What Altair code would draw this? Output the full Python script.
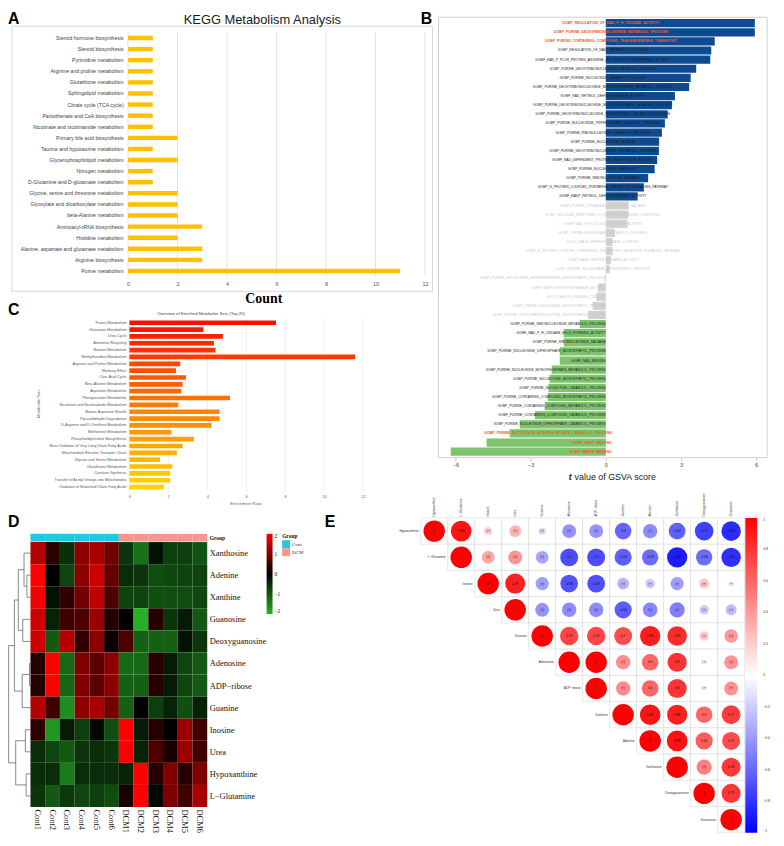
import altair as alt
import pandas as pd

W, H = 776, 830
SANS = "Liberation Sans"
SERIF = "Liberation Serif"

# ---------------- Panel A : KEGG ----------------
kegg_pathways = [
    "Steroid hormone biosynthesis", "Steroid biosynthesis", "Pyrimidine metabolism",
    "Arginine and proline metabolism", "Glutathione metabolism", "Sphingolipid metabolism",
    "Citrate cycle (TCA cycle)", "Pantothenate and CoA biosynthesis",
    "Nicotinate and nicotinamide metabolism", "Primary bile acid biosynthesis",
    "Taurine and hypotaurine metabolism", "Glycerophospholipid metabolism", "Nitrogen metabolism",
    "D-Glutamine and D-glutamate metabolism", "Glycine, serine and threonine metabolism",
    "Glyoxylate and dicarboxylate metabolism", "beta-Alanine metabolism",
    "Aminoacyl-tRNA biosynthesis", "Histidine metabolism",
    "Alanine, aspartate and glutamate metabolism", "Arginine biosynthesis", "Purine metabolism",
]
kegg_counts = [1, 1, 1, 1, 1, 1, 1, 1, 1, 2, 1, 2, 1, 1, 2, 2, 2, 3, 2, 3, 3, 11]
kegg_ticks = [0, 2, 4, 6, 8, 10, 12]

# ---------------- Panel B : GSVA ----------------
gsva_terms = [
    "GOBP_REGULATION_OF_NAD_P_H_OXIDASE_ACTIVITY",
    "GOBP_PURINE_DEOXYRIBONUCLEOSIDE_METABOLIC_PROCESS",
    "GOBP_PURINE_CONTAINING_COMPOUND_TRANSMEMBRANE_TRANSPORT",
    "GOBP_REGULATION_OF_NADP_METABOLIC_PROCESS",
    "GOMF_NAD_P_PLUS_PROTEIN_ARGININE_ADP_RIBOSYLTRANSFERASE_ACTIVITY",
    "GOBP_PURINE_DEOXYRIBONUCLEOTIDE_CATABOLIC_PROCESS",
    "GOBP_PURINE_NUCLEOSIDE_CATABOLIC_PROCESS",
    "GOBP_PURINE_DEOXYRIBONUCLEOSIDE_MONOPHOSPHATE_METABOLIC_PROCESS",
    "GOMF_NAD_RETINOL_DEHYDROGENASE_ACTIVITY",
    "GOBP_PURINE_DEOXYRIBONUCLEOSIDE_MONOPHOSPHATE_CATABOLIC_PROCESS",
    "GOBP_PURINE_DEOXYRIBONUCLEOSIDE_TRIPHOSPHATE_METABOLIC_PROCESS",
    "GOBP_PURINE_NUCLEOSIDE_TRIPHOSPHATE_CATABOLIC_PROCESS",
    "GOBP_PURINE_RIBONUCLEOSIDE_CATABOLIC_PROCESS",
    "GOBP_PURINE_NUCLEOTIDE_SALVAGE",
    "GOBP_PURINE_DEOXYRIBONUCLEOTIDE_METABOLIC_PROCESS",
    "GOMF_NAD_DEPENDENT_PROTEIN_DEACETYLASE_ACTIVITY",
    "GOBP_PURINE_NUCLEOTIDE_TRANSPORT",
    "GOBP_PURINE_RIBONUCLEOTIDE_SALVAGE",
    "GOBP_G_PROTEIN_COUPLED_PURINERGIC_RECEPTOR_SIGNALING_PATHWAY",
    "GOMF_NADP_RETINOL_DEHYDROGENASE_ACTIVITY",
    "GOBP_PURINE_CONTAINING_COMPOUND_SALVAGE",
    "GOBP_CELLULAR_RESPONSE_TO_PURINE_CONTAINING_COMPOUND",
    "GOMF_NAD_P_PLUS_NUCLEOSIDASE_ACTIVITY",
    "GOBP_PURINE_NUCLEOBASE_METABOLIC_PROCESS",
    "GOCC_NADH_DEHYDROGENASE_COMPLEX",
    "GOBP_G_PROTEIN_COUPLED_PURINERGIC_NUCLEOTIDE_RECEPTOR_SIGNALING_PATHWAY",
    "GOMF_NADH_DEHYDROGENASE_ACTIVITY",
    "GOBP_PURINE_NUCLEOBASE_BIOSYNTHETIC_PROCESS",
    "GOBP_PURINE_NUCLEOSIDE_MONOPHOSPHATE_BIOSYNTHETIC_PROCESS",
    "GOMF_NADH_PYROPHOSPHATASE_ACTIVITY",
    "GOCC_NADPH_OXIDASE_COMPLEX",
    "GOBP_PURINE_NUCLEOSIDE_BIOSYNTHETIC_PROCESS",
    "GOBP_PURINE_DEOXYRIBONUCLEOTIDE_BIOSYNTHETIC_PROCESS",
    "GOBP_PURINE_RIBONUCLEOSIDE_METABOLIC_PROCESS",
    "GOMF_NAD_P_H_OXIDASE_H2O2_FORMING_ACTIVITY",
    "GOBP_PURINE_RIBONUCLEOSIDE_SALVAGE",
    "GOBP_PURINE_NUCLEOSIDE_DIPHOSPHATE_BIOSYNTHETIC_PROCESS",
    "GOMF_NAD_BINDING",
    "GOBP_PURINE_NUCLEOSIDE_MONOPHOSPHATE_METABOLIC_PROCESS",
    "GOBP_PURINE_NUCLEOTIDE_BIOSYNTHETIC_PROCESS",
    "GOBP_PURINE_NUCLEOTIDE_CATABOLIC_PROCESS",
    "GOBP_PURINE_CONTAINING_COMPOUND_BIOSYNTHETIC_PROCESS",
    "GOBP_PURINE_CONTAINING_COMPOUND_METABOLIC_PROCESS",
    "GOBP_PURINE_CONTAINING_COMPOUND_CATABOLIC_PROCESS",
    "GOBP_PURINE_NUCLEOSIDE_DIPHOSPHATE_CATABOLIC_PROCESS",
    "GOBP_PURINE_NUCLEOSIDE_MONOPHOSPHATE_CATABOLIC_PROCESS",
    "GOMF_NADP_BINDING",
    "GOMF_NADPH_BINDING",
]
gsva_t = [5.95, 5.95, 4.35, 4.21, 4.17, 3.61, 3.39, 3.33, 2.76, 2.64,
          2.47, 2.36, 2.24, 2.13, 2.12, 2.05, 1.95, 1.69, 1.52, 1.27,
          0.91, 0.90, 0.87, 0.36, 0.27, 0.27, 0.20, 0.16, -0.04, -0.31,
          -0.37, -0.53, -0.72,
          -1.04, -1.68, -1.68, -1.84, -1.84, -2.16, -2.25, -2.29, -2.32, -2.44,
          -2.83, -3.43, -3.84, -4.76, -6.19]
gsva_significant = [1] * 20 + [0] * 13 + [1] * 15
gsva_highlight = [
    "GOBP_REGULATION_OF_NAD_P_H_OXIDASE_ACTIVITY",
    "GOBP_PURINE_DEOXYRIBONUCLEOSIDE_METABOLIC_PROCESS",
    "GOBP_PURINE_CONTAINING_COMPOUND_TRANSMEMBRANE_TRANSPORT",
    "GOBP_PURINE_NUCLEOSIDE_MONOPHOSPHATE_CATABOLIC_PROCESS",
    "GOMF_NADP_BINDING",
    "GOMF_NADPH_BINDING",
]
gsva_ticks = [-6, -3, 0, 3, 6]

# ---------------- Panel C : MSEA ----------------
msea_sets = [
    "Purine Metabolism", "Glutamate Metabolism", "Urea Cycle", "Ammonia Recycling",
    "Betaine Metabolism", "Methylhistidine Metabolism", "Arginine and Proline Metabolism",
    "Warburg Effect", "Citric Acid Cycle", "Beta-Alanine Metabolism", "Aspartate Metabolism",
    "Phenylacetate Metabolism", "Nicotinate and Nicotinamide Metabolism",
    "Malate-Aspartate Shuttle", "Pyruvaldehyde Degradation",
    "D-Arginine and D-Ornithine Metabolism", "Methionine Metabolism",
    "Phosphatidylcholine Biosynthesis", "Beta Oxidation of Very Long Chain Fatty Acids",
    "Mitochondrial Electron Transport Chain", "Glycine and Serine Metabolism",
    "Glutathione Metabolism", "Carnitine Synthesis",
    "Transfer of Acetyl Groups into Mitochondria", "Oxidation of Branched Chain Fatty Acids",
]
msea_ratio = [7.53, 3.80, 4.80, 4.34, 4.42, 11.60, 2.61, 2.39, 2.90, 2.73, 2.66, 5.17, 2.51,
              4.63, 4.63, 4.22, 2.15, 3.31, 2.73, 2.44, 1.58, 2.20, 2.10, 2.10, 1.78]
msea_ticks = [0, 2, 4, 6, 8, 10, 12]

# ---------------- Panel D : heatmap ----------------
heat_samples = ["Cont1", "Cont2", "Cont3", "Cont4", "Cont5", "Cont6",
                "DCM1", "DCM2", "DCM3", "DCM4", "DCM5", "DCM6"]
heat_metabolites = ["Xanthosine", "Adenine", "Xanthine", "Guanosine", "Deoxyguanosine",
                    "Adenosine", "ADP−ribose", "Guanine", "Inosine", "Urea",
                    "Hypoxanthine", "L−Glutamine"]
z_xanthosine = [1.4, 0.35, -0.55, 1.1, 1.3, 0.9, -0.6, -1.3, -0.2, -0.7, -0.7, -0.95]
z_adenine = [2.0, 0.0, -0.8, 1.1, 1.6, 0.8, -0.5, -0.6, -0.85, -0.8, -0.75, -0.75]
z_xanthine = [1.9, -0.2, 0.4, 0.9, 1.5, 0.6, -0.75, -0.75, -0.9, -0.9, -0.85, -0.8]
z_guanosine = [1.6, -0.4, 0.5, 0.6, 1.2, 0.3, 0.0, -2.0, 0.3, -0.6, -0.3, -1.0]
z_deoxyguanosine = [1.6, -1.0, 1.4, 0.4, 1.1, 0.1, 0.6, -1.1, -1.1, -1.1, -0.2, -0.6]
z_adenosine = [0.3, 2.0, -1.2, 1.0, 0.7, 1.1, -1.2, -1.2, 0.3, -0.3, -0.8, -1.0]
z_adp_ribose = [0.3, 2.0, -1.15, 1.0, 0.7, 1.1, -1.1, -1.1, 0.3, -0.3, -0.8, -1.0]
z_guanine = [1.4, 0.5, -1.6, 1.1, 1.3, 0.9, -1.1, 0.0, -0.7, -0.4, -0.9, -0.4]
z_inosine = [0.35, -1.7, -0.3, -0.7, -0.1, -0.9, 2.2, -0.3, 0.3, 0.0, 1.2, 0.5]
z_urea = [-0.5, -0.8, -1.0, -0.6, -0.5, -0.6, 2.2, -0.4, 0.6, 0.2, 1.2, 0.5]
z_hypoxanthine = [-0.5, -0.5, -1.4, -0.5, -0.5, -0.5, -0.4, 2.4, 0.3, 1.0, 0.3, 1.0]
z_l_glutamine = [-0.6, -1.0, -0.65, -0.8, -0.7, -0.85, 0.2, 2.4, -0.1, 1.0, 0.5, 1.3]
heat_rows = [z_xanthosine, z_adenine, z_xanthine, z_guanosine, z_deoxyguanosine,
             z_adenosine, z_adp_ribose, z_guanine, z_inosine, z_urea,
             z_hypoxanthine, z_l_glutamine]
# hclust-style merges: negative = leaf (1-based row), positive = earlier merge
dendro_merges = [(-6, -7, 1.2), (-2, -3, 4.5), (-11, -12, 5.5), (-9, -10, 6.5),
                 (-1, 2, 8.2), (-4, -5, 9.8), (1, -8, 10.5), (5, 6, 15.5),
                 (4, 3, 18.8), (8, 7, 20.5), (10, 9, 27.8)]

# ---------------- Panel E : correlation ----------------
corr_names = ["Hypoxanthine", "L−Glutamine", "Inosine", "Urea", "Guanine", "Adenosine",
              "ADP−ribose", "Xanthine", "Adenine", "Xanthosine", "Deoxyguanosine", "Guanosine"]
r_hypoxanthine = [1, 0.93, 0.16, 0.30, -0.12, -0.42, -0.42, -0.6, -0.45, -0.62, -0.75, -0.83]
r_l_glutamine = [1, 0.35, 0.42, -0.35, -0.7, -0.7, -0.63, -0.58, -0.89, -0.58, -0.82]
r_inosine = [1, 0.87, -0.38, -0.68, -0.69, -0.30, -0.20, -0.38, 0.22, 0.02]
r_urea = [1, -0.42, -0.45, -0.45, -0.64, -0.47, -0.50, -0.20, -0.26]
r_guanine = [1, 0.73, 0.73, 0.7, 0.89, 0.83, 0.20, 0.40]
r_adenosine = [1, 1, 0.45, 0.6, 0.8, 0.02, 0.42]
r_adp_ribose = [1, 0.45, 0.6, 0.8, 0.02, 0.42]
r_xanthine = [1, 0.92, 0.88, 0.6, 0.77]
r_adenine = [1, 0.93, 0.64, 0.71]
r_xanthosine = [1, 0.50, 0.78]
r_deoxyguanosine = [1, 0.79]
r_guanosine = [1]
corr_rows = [r_hypoxanthine, r_l_glutamine, r_inosine, r_urea, r_guanine, r_adenosine,
             r_adp_ribose, r_xanthine, r_adenine, r_xanthosine, r_deoxyguanosine, r_guanosine]
sig_rows = [
    [1, 1, 0, 0, 0, 0, 0, 1, 0, 1, 1, 1],
    [1, 0, 0, 0, 1, 1, 1, 1, 1, 1, 1],
    [1, 1, 0, 1, 1, 0, 0, 0, 0, 0],
    [1, 0, 0, 0, 1, 0, 0, 0, 0],
    [1, 1, 1, 1, 1, 1, 0, 0],
    [1, 1, 0, 1, 1, 0, 0],
    [1, 0, 1, 1, 0, 0],
    [1, 1, 1, 1, 1],
    [1, 1, 1, 1],
    [1, 0, 1],
    [1, 1],
    [1],
]
corr_legend_values = [-1, -0.8, -0.6, -0.4, -0.2, 0, 0.2, 0.4, 0.6, 0.8, 1]


def note(text, x, y, size, weight="normal", align="left", color="#000000",
         font=SANS, style="normal"):
    return alt.Chart(pd.DataFrame({"t": [text]})).mark_text(
        align=align, baseline="middle", fontSize=size, fontWeight=weight,
        fontStyle=style, font=font, color=color,
    ).encode(x=alt.value(x), y=alt.value(y), text="t:N")


def bare_axis(**kw):
    base = dict(domain=False, ticks=False, tickSize=0, grid=False, title=None)
    base.update(kw)
    return alt.Axis(**base)


# ================= A =================
dfA = pd.DataFrame({"pathway": kegg_pathways, "count": kegg_counts})
scAx = alt.Scale(domain=[0, 12], range=[121.3, 421.3], nice=False, zero=False)
scAy = alt.Scale(domain=kegg_pathways, range=[20.4, 267], paddingInner=0.6, paddingOuter=0.3)
axAx = alt.Axis(orient="bottom", offset=-(H - 269), values=kegg_ticks, format="d",
                domain=False, ticks=False, tickSize=0, grid=False, labelPadding=3,
                labelFontSize=5.5, labelColor="#555555", labelFont=SANS, labelFlush=False,
                title="Count", titleFont=SERIF, titleFontSize=14, titleFontWeight="bold",
                titleColor="#000000", titleX=258, titleY=20, titleAlign="center",
                titleBaseline="middle")
axAy = bare_axis(orient="left", offset=-121.3, labelPadding=5, labelFontSize=5.2,
                 labelColor="#404040", labelFont=SANS, labelLimit=300, labelOverlap=False)
frameA = alt.Chart(pd.DataFrame({"k": [0]})).mark_rect(
    fill="white", fillOpacity=0, stroke="#d9d9d9", strokeWidth=1
).encode(x=alt.value(4), x2=alt.value(429), y=alt.value(14), y2=alt.value(282))
gridA = alt.Chart(pd.DataFrame({"v": kegg_ticks})).mark_rule(
    color="#dcdcdc", strokeWidth=0.8
).encode(x=alt.X("v:Q", scale=scAx, axis=axAx), y=alt.value(20), y2=alt.value(267))
barsA = alt.Chart(dfA).mark_bar(color="#FFC000").encode(
    x=alt.X("count:Q", scale=scAx, axis=axAx),
    x2=alt.datum(0),
    y=alt.Y("pathway:N", scale=scAy, sort=kegg_pathways, axis=axAy),
)
layerA = alt.layer(frameA, gridA, barsA)

# ================= B =================
dfB = pd.DataFrame({"term": gsva_terms, "t": gsva_t, "sig": gsva_significant})
dfB["status"] = ["ns" if s == 0 else ("up" if t > 0 else "down")
                 for s, t in zip(dfB["sig"], dfB["t"])]
dfB["hl"] = [1 if term in gsva_highlight else 0 for term in dfB["term"]]
scBx = alt.Scale(domain=[-6.68, 6.44], range=[435, 767], nice=False, zero=False)
scBy = alt.Scale(domain=gsva_terms, range=[5, 450], paddingInner=0.1, paddingOuter=0.2)
axBx = alt.Axis(orient="bottom", offset=-(H - 450), values=gsva_ticks, format="d",
                domain=False, ticks=True, tickSize=3, tickColor="#999999", tickWidth=0.6,
                grid=False, labelPadding=1.5, labelFontSize=5.5, labelColor="#444444",
                labelFont=SANS, labelFlush=False, title=None)
frameB = alt.Chart(pd.DataFrame({"k": [0]})).mark_rect(
    fill="white", fillOpacity=0, stroke="#cfcfcf", strokeWidth=1
).encode(x=alt.value(435), x2=alt.value(767), y=alt.value(5), y2=alt.value(450))
barsB = alt.Chart(dfB).mark_bar().encode(
    x=alt.X("t:Q", scale=scBx, axis=axBx),
    x2=alt.datum(0),
    y=alt.Y("term:N", scale=scBy, sort=gsva_terms, axis=None),
    color=alt.Color("status:N", scale=alt.Scale(domain=["up", "ns", "down"],
                    range=["#0E4A90", "#D3D0D1", "#7EC46D"]), legend=None),
)


def gsva_labels(expr, align, dx, size, weight, color):
    return alt.Chart(dfB).transform_filter(expr).mark_text(
        align=align, baseline="middle", dx=dx, fontSize=size, fontWeight=weight, font=SANS
    ).encode(
        x=alt.datum(0),
        y=alt.Y("term:N", scale=scBy, sort=gsva_terms, axis=None),
        text="term:N",
        color=color,
    )


txt_col = alt.condition("datum.status == 'ns'", alt.value("#c9c9c9"), alt.value("#1a1a1a"))
labB1 = gsva_labels("datum.hl == 0 && datum.t > 0", "center", -3, 3.4, "normal", txt_col)
labB2 = gsva_labels("datum.hl == 0 && datum.t <= 0", "right", 0, 3.4, "normal", txt_col)
labB3 = gsva_labels("datum.hl == 1 && datum.t > 0", "center", 5, 3.6, "bold", alt.value("#EE5A24"))
labB4 = gsva_labels("datum.hl == 1 && datum.t <= 0", "right", 6, 3.6, "bold", alt.value("#EE5A24"))
layerB = alt.layer(frameB, barsB, labB1, labB2, labB3, labB4)

# ================= C =================
dfC = pd.DataFrame({"set": msea_sets, "ratio": msea_ratio, "rank": list(range(len(msea_sets)))})
scCx = alt.Scale(domain=[0, 12], range=[122.7, 358.7], nice=False, zero=False)
scCy = alt.Scale(domain=msea_sets, range=[310.2, 483.2], paddingInner=0.32, paddingOuter=0.16)
axCx = alt.Axis(orient="bottom", offset=-(H - 484), values=msea_ticks, format="d",
                domain=False, ticks=False, tickSize=0, grid=False, labelPadding=3,
                labelFontSize=4, labelColor="#666666", labelFont=SANS, labelFlush=False,
                title="Enrichment Ratio", titleFont=SANS, titleFontSize=4.2,
                titleFontWeight="normal", titleColor="#666666", titleX=240, titleY=12,
                titleAlign="center", titleBaseline="middle")
axCy = alt.Axis(orient="left", offset=-122.7, domain=False, ticks=False, tickSize=0,
                grid=False, labelPadding=3.5, labelFontSize=3.8, labelColor="#555555",
                labelFont=SANS, labelLimit=300, labelOverlap=False,
                title="Metabolite Sets", titleFont=SANS, titleFontSize=4.2,
                titleFontWeight="normal", titleColor="#666666", titleAngle=270,
                titleX=-91.7, titleY=395, titleAlign="center", titleBaseline="middle")
gridC = alt.Chart(pd.DataFrame({"v": msea_ticks})).mark_rule(
    color="#e6e6e6", strokeWidth=0.7
).encode(x=alt.X("v:Q", scale=scCx, axis=axCx), y=alt.value(310), y2=alt.value(484))
barsC = alt.Chart(dfC).mark_bar().encode(
    x=alt.X("ratio:Q", scale=scCx, axis=axCx),
    x2=alt.datum(0),
    y=alt.Y("set:N", scale=scCy, sort=msea_sets, axis=axCy),
    color=alt.Color("rank:Q", scale=alt.Scale(domain=[0, 12, 24],
                    range=["#ff0d00", "#ff7a00", "#ffd400"], interpolate="rgb"),
                    legend=None),
)
layerC = alt.layer(gridC, barsC)

# ================= D =================
recD = []
for m, vals in zip(heat_metabolites, heat_rows):
    for s, v in zip(heat_samples, vals):
        recD.append({"metabolite": m, "sample": s, "z": v})
dfD = pd.DataFrame(recD)
scDx = alt.Scale(domain=heat_samples, range=[22.7, 201.3], paddingInner=0, paddingOuter=0)
scDy = alt.Scale(domain=heat_metabolites, range=[535.3, 803], paddingInner=0, paddingOuter=0)
heat = alt.Chart(dfD).mark_rect().encode(
    x=alt.X("sample:N", scale=scDx, sort=heat_samples,
            axis=bare_axis(orient="bottom", offset=-(H - 803), labelAngle=90,
                           labelAlign="left", labelBaseline="middle", labelPadding=2,
                           labelFont=SERIF, labelFontSize=8.5, labelColor="#111111",
                           labelOverlap=False)),
    y=alt.Y("metabolite:N", scale=scDy, sort=heat_metabolites,
            axis=bare_axis(orient="right", offset=-(W - 201.3), labelPadding=2,
                           labelFont=SERIF, labelFontSize=8.5, labelColor="#111111",
                           labelOverlap=False, labelLimit=200)),
    color=alt.Color("z:Q", scale=alt.Scale(domain=[-2, 0, 2],
                    range=["#25b025", "#000000", "#ff0000"], clamp=True, interpolate="rgb"),
                    legend=alt.Legend(orient="none", legendX=261.3, legendY=527,
                                      direction="vertical", gradientLength=81,
                                      gradientThickness=6, gradientStrokeWidth=0,
                                      values=[-2, -1, 0, 1, 2], format="d", labelFont=SERIF,
                                      labelFontSize=5.5, labelColor="#111111",
                                      labelOffset=2, title=None, padding=0)),
)
dfG = pd.DataFrame({"sample": heat_samples,
                    "group": ["Cont" if s.startswith("Cont") else "DCM" for s in heat_samples],
                    "band": ["Group"] * len(heat_samples)})
groupbar = alt.Chart(dfG).mark_rect().encode(
    x=alt.X("sample:N", scale=scDx, sort=heat_samples, axis=None),
    y=alt.Y("band:N", scale=alt.Scale(domain=["Group"], range=[527, 534.7],
                                      paddingInner=0, paddingOuter=0),
            axis=bare_axis(orient="right", offset=-(W - 201.3), labelPadding=2,
                           labelFont=SERIF, labelFontSize=5.5, labelFontWeight="bold",
                           labelColor="#111111")),
    fill=alt.Fill("group:N", scale=alt.Scale(domain=["Cont", "DCM"],
                  range=["#1DCBE0", "#F7968C"]),
                  legend=alt.Legend(orient="none", legendX=277, legendY=527, title="Group",
                                    titleFont=SERIF, titleFontSize=5.5,
                                    titleFontWeight="bold", titleColor="#111111",
                                    titlePadding=1, labelFont=SERIF, labelFontSize=5,
                                    labelColor="#333333", symbolType="square",
                                    symbolSize=64, symbolStrokeWidth=0, rowPadding=0,
                                    labelOffset=2, padding=0)),
)
pos, hgt, segs = {}, {}, []


def node(ref):
    if ref < 0:
        return abs(ref) - 0.5, 0.0
    return pos[ref], hgt[ref]


for k, (a, b, h) in enumerate(dendro_merges, start=1):
    ya, ha = node(a)
    yb, hb = node(b)
    segs.append({"x": h, "x2": h, "y": ya, "y2": yb})
    segs.append({"x": ha, "x2": h, "y": ya, "y2": ya})
    segs.append({"x": hb, "x2": h, "y": yb, "y2": yb})
    pos[k], hgt[k] = (ya + yb) / 2, h
dendro = alt.Chart(pd.DataFrame(segs)).mark_rule(color="#555555", strokeWidth=0.7).encode(
    x=alt.X("x:Q", scale=alt.Scale(domain=[0, 28], range=[22.7, 0.5], nice=False, zero=False), axis=None),
    x2="x2:Q",
    y=alt.Y("y:Q", scale=alt.Scale(domain=[0, 12], range=[535.3, 803], nice=False, zero=False), axis=None),
    y2="y2:Q",
)

# ================= E =================
recE = []
for i, name in enumerate(corr_names):
    for k, (r, s) in enumerate(zip(corr_rows[i], sig_rows[i])):
        recE.append({"row": name, "col": corr_names[i + k], "r": r, "absr": abs(r),
                     "lab": (f"{r:g}" if s else "(×)")})
dfE = pd.DataFrame(recE)
scEx = alt.Scale(domain=corr_names, range=[417, 744.3], paddingInner=0, paddingOuter=0)
scEy = alt.Scale(domain=corr_names, range=[511, 829], paddingInner=0, paddingOuter=0)
axEx = bare_axis(orient="top", offset=-511, labelAngle=270, labelAlign="left",
                 labelBaseline="middle", labelPadding=2, labelFont=SANS,
                 labelFontSize=3.2, labelColor="#333333", labelOverlap=False)
rectE = alt.Chart(dfE).mark_rect(fill="white", stroke="#d9d9d9", strokeWidth=0.6).encode(
    x=alt.X("col:N", scale=scEx, sort=corr_names, axis=axEx),
    y=alt.Y("row:N", scale=scEy, sort=corr_names, axis=None),
)
circE = alt.Chart(dfE).mark_circle(opacity=1).encode(
    x=alt.X("col:N", scale=scEx, sort=corr_names, axis=axEx),
    y=alt.Y("row:N", scale=scEy, sort=corr_names, axis=None),
    size=alt.Size("absr:Q", scale=alt.Scale(domain=[0, 1], range=[0, 470]), legend=None),
    color=alt.Color("r:Q", scale=alt.Scale(domain=[-1, 0, 1],
                    range=["#0000ff", "#ffffff", "#ff0000"], interpolate="rgb"),
                    legend=alt.Legend(orient="none", legendX=745, legendY=511,
                                      direction="vertical", gradientLength=318,
                                      gradientThickness=12, gradientStrokeWidth=0,
                                      values=corr_legend_values, format="~g",
                                      labelFont=SANS, labelFontSize=3.5,
                                      labelColor="#333333", labelOffset=6, title=None,
                                      padding=0, labelOverlap=False)),
)
textE = alt.Chart(dfE).mark_text(fontSize=3.3, color="#111111", font=SANS).encode(
    x=alt.X("col:N", scale=scEx, sort=corr_names, axis=axEx),
    y=alt.Y("row:N", scale=scEy, sort=corr_names, axis=None),
    text="lab:N",
)
rowlabE = alt.Chart(pd.DataFrame({"name": corr_names})).mark_text(
    align="right", baseline="middle", dx=-15.6, fontSize=3.2, color="#333333", font=SANS
).encode(
    x=alt.X("name:N", scale=scEx, sort=corr_names, axis=axEx),
    y=alt.Y("name:N", scale=scEy, sort=corr_names, axis=None),
    text="name:N",
)
layerE = alt.layer(rectE, circE, textE, rowlabE)

# ================= annotations =================
notes = [
    note("KEGG Metabolism Analysis", 257, 7.5, 13, align="center", color="#1a1a1a"),
    note("A", 0, 7, 16, weight="bold"),
    note("B", 417, 7, 16, weight="bold"),
    note("C", 0, 301, 16, weight="bold"),
    note("D", 0, 515.5, 16, weight="bold"),
    note("E", 320, 515.5, 16, weight="bold"),
    note("Overview of Enriched Metabolite Sets (Top 25)", 195, 304.7, 4.3,
         align="center", color="#444444"),
    note("t", 566.5, 470, 9, weight="bold", style="italic", color="#1a1a1a"),
    note("value of GSVA score", 572.5, 470, 9, color="#1a1a1a"),
]

chart = alt.layer(layerA, layerC, layerB, heat, groupbar, dendro, layerE, *notes).resolve_scale(
    x="independent", y="independent", color="independent", fill="independent",
    size="independent",
).properties(
    width=W, height=H, padding=0, background="white",
    autosize=alt.AutoSizeParams(type="none"),
).configure_view(strokeWidth=0).configure_axis(grid=False)

chart.save("out.html", embed_options={"renderer": "svg", "actions": False})
